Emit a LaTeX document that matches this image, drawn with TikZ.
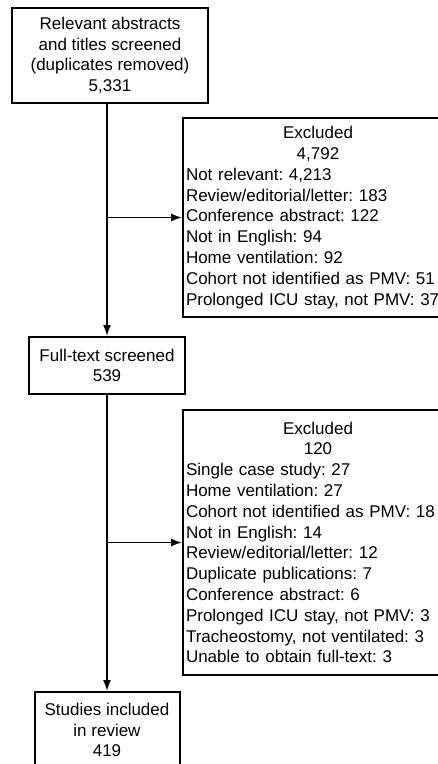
\documentclass[tikz,border=0pt]{standalone}
\usepackage{fontspec}
\setmainfont{Liberation Sans}
\usetikzlibrary{arrows.meta}

\begin{document}
\frenchspacing
\begin{tikzpicture}[
		every node/.style={rectangle, draw, line width=2pt, font=\fontsize{17pt}{20.8pt}\selectfont},
		stage/.style={align=center, inner sep=0pt},
		excl/.style={anchor=west, align=left, text width=264pt, inner xsep=3pt, inner ysep=0pt, minimum width=270pt},
		flow/.style={line width=1.6pt, -{Latex[length=11pt, width=8pt]}}
	]
  \useasboundingbox (0pt, 0pt) rectangle (438pt, -764pt);
  \clip (0pt, 0pt) rectangle (438pt, -764pt);
  \node (screened) [stage, minimum width=196pt, minimum height=95pt] at (110pt, -55.5pt) {Relevant abstracts\\and titles screened\\(duplicates removed)\\5,331};
  \node (fulltext) [stage, minimum width=156pt, minimum height=57pt] at (107pt, -365.5pt) {Full-text screened\\539};
  \node (included) [stage, minimum width=145pt, minimum height=76pt] at (107pt, -730pt) {Studies included\\in review\\419};
  \node (excl1) [excl, minimum height=199pt] at (182pt, -217.5pt) {{\centering Excluded\\4,792\par}
    Not relevant: 4,213\\
    Review/editorial/letter: 183\\
    Conference abstract: 122\\
    Not in English: 94\\
    Home ventilation: 92\\
    Cohort not identified as PMV: 51\\
    Prolonged ICU stay, not PMV: 37};
  \node (excl2) [excl, minimum height=265pt] at (182pt, -542.5pt) {{\centering Excluded\\120\par}
    Single case study: 27\\
    Home ventilation: 27\\
    Cohort not identified as PMV: 18\\
    Not in English: 14\\
    Review/editorial/letter: 12\\
    Duplicate publications: 7\\
    Conference abstract: 6\\
    Prolonged ICU stay, not PMV: 3\\
    Tracheostomy, not ventilated: 3\\
    Unable to obtain full-text: 3};
  \coordinate (fork1) at (fulltext.north |- excl1.west);
  \coordinate (fork2) at (fulltext.south |- excl2.west);
  \draw [flow] (fulltext.north |- screened.south) -- (fulltext.north);
  \draw [flow] (fork1) -- (excl1.west);
  \draw [flow] (fulltext.south) -- (included.north);
  \draw [flow] (fork2) -- (excl2.west);
\end{tikzpicture}
\end{document}
